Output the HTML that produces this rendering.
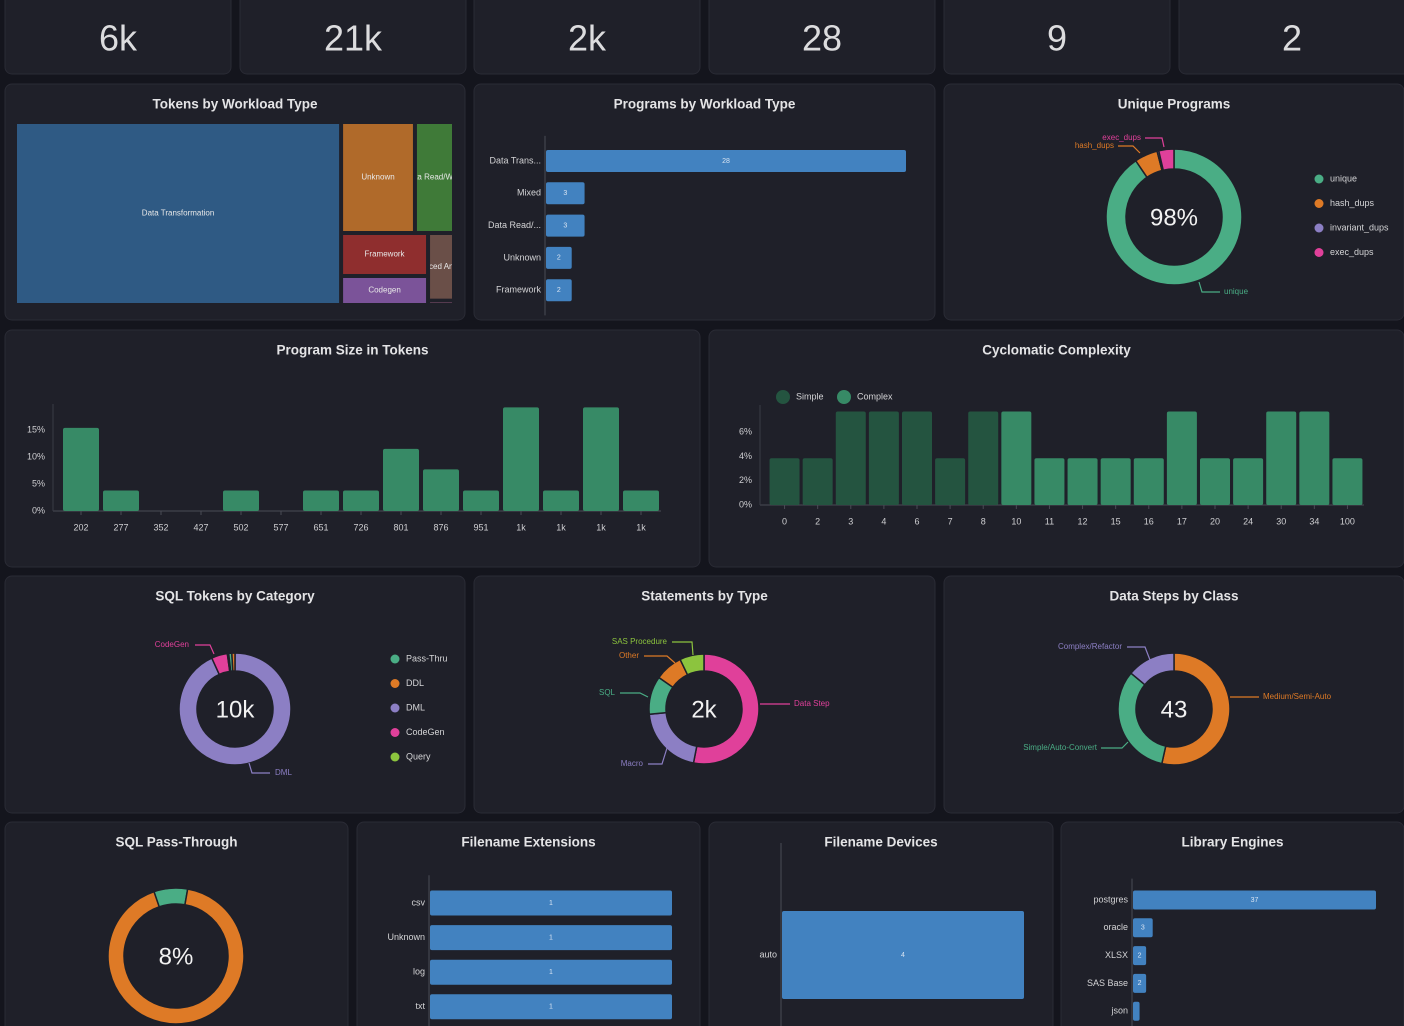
<!DOCTYPE html>
<html><head><meta charset="utf-8">
<style>
html,body{margin:0;padding:0;background:#14151d;width:1404px;height:1026px;overflow:hidden}
svg{display:block;font-family:"Liberation Sans",sans-serif}
</style></head>
<body>
<svg id="dash" width="1404" height="1026" viewBox="0 0 1404 1026" xmlns="http://www.w3.org/2000/svg"></svg>
<script>
// ---------- data ----------
const kpiValues = ["6k","21k","2k","28","9","2"];
const treeLabels = ["Data Transformation","Unknown","Data Read/Write","Framework","Codegen","Advanced Analytics","Other"];
const treeValues = [53000,7280,3850,3320,2240,1560,100];
const treeColors = ["#2f5a84","#b06a2a","#3f7a38","#8f2e2e","#7b5399","#6a4f48","#c0709a"];
const progCats = ["Data Trans...","Mixed","Data Read/...","Unknown","Framework"];
const progVals = [28,3,3,2,2];
const uniqueCats = ["unique","hash_dups","invariant_dups","exec_dups"];
const uniqueVals = [90.5,5.5,0.4,3.6];
const sizeCats = ["202","277","352","427","502","577","651","726","801","876","951","1k","1k","1k","1k"];
const sizeVals = [15.4,3.8,0,0,3.8,0,3.8,3.8,11.5,7.7,3.8,19.2,3.8,19.2,3.8];
const sizeTicks = [0,5,10,15];
const ccCats = ["0","2","3","4","6","7","8","10","11","12","15","16","17","20","24","30","34","100"];
const ccVals = [3.85,3.85,7.7,7.7,7.7,3.85,7.7,7.7,3.85,3.85,3.85,3.85,7.7,3.85,3.85,7.7,7.7,3.85];
const ccSimple = [1,1,1,1,1,1,1,0,0,0,0,0,0,0,0,0,0,0];
const ccTicks = [0,2,4,6];
const sqlCats = ["DML","CodeGen","Query","Pass-Thru","DDL"];
const sqlVals = [93.2,4.6,0.4,0.9,0.9];
const stmtCats = ["Data Step","Macro","SQL","Other","SAS Procedure"];
const stmtVals = [52,20,11,8,7];
const dsCats = ["Medium/Semi-Auto","Simple/Auto-Convert","Complex/Refactor"];
const dsVals = [23,14,6];
const ptCats = ["pass","other"];
const ptVals = [8,92];
const extCats = ["csv","Unknown","log","txt"];
const extVals = [1,1,1,1];
const devCats = ["auto"];
const devVals = [4];
const libCats = ["postgres","oracle","XLSX","SAS Base","json"];
const libVals = [37,3,2,2,1];

const NS="http://www.w3.org/2000/svg";
const svg=document.getElementById('dash');
function el(tag,attrs,parent,text){const e=document.createElementNS(NS,tag);for(const k in attrs)e.setAttribute(k,attrs[k]);if(text!==undefined)e.textContent=text;(parent||svg).appendChild(e);return e;}
function txt(x,y,s,size,fill,anchor,parent,weight){const t=el('text',{x:x,y:y,'font-size':size,fill:fill,'text-anchor':anchor||'middle','dominant-baseline':'middle','font-weight':weight||'normal'},parent,s);return t;}
function card(x,y,w,h,name,title){const g=el('g',{});
 el('rect',{x:x,y:y,width:w,height:h,rx:7,fill:'#1f2029',stroke:'#2a2b35','stroke-width':1},g);
 if(title){const t=txt(x+w/2,y+21,title,13.5,'#e4e4e6','middle',g,'bold');}
 return g;}

// KPIs
const kpiX=[5,240,474,709,944,1179];
kpiValues.forEach((v,i)=>{const g=card(kpiX[i],-8,i==5?233:226,82,'kpi-card-'+(i+1));
 const t=txt(kpiX[i]+113,41,v,36,'#dcdcde','middle',g);});

// ---------- treemap ----------
(function(){const g=card(5,84,460,236,'tokens-by-workload-card','Tokens by Workload Type');
 const X=17,Y=124,W=439,H=183,gap=4;
 const total=treeValues.reduce((a,b)=>a+b,0);const scale=W*H/total;
 const A=treeValues.map(v=>v*scale);
 const rects=[];
 // column for first item
 const w0=A[0]/H;rects.push({x:X,y:Y,w:w0,h:H,i:0});
 const rx=X+w0,rw=W-w0;
 // strip of items 1,2 across the top
 const h1=(A[1]+A[2])/rw;let xx=rx;
 [1,2].forEach(i=>{const w=A[i]/h1;rects.push({x:xx,y:Y,w:w,h:h1,i:i});xx+=w;});
 const ry=Y+h1,rh=H-h1;
 // column of items 3,4 then column of 5,6
 [[3,4],[5,6]].reduce((cx,grp)=>{const cw=(A[grp[0]]+A[grp[1]])/rh;let yy=ry;
   grp.forEach(i=>{const h=A[i]/cw;rects.push({x:cx,y:yy,w:cw,h:h,i:i});yy+=h;});return cx+cw;},rx);
 const defs=el('defs',{},g);
 rects.forEach((r,k)=>{const w=Math.max(0,r.w-gap),h=Math.max(0,r.h-gap);
  const rr=el('rect',{x:r.x,y:r.y,width:w,height:h,fill:treeColors[r.i]},g);
  
  const cp=el('clipPath',{id:'tc'+k},defs);el('rect',{x:r.x,y:r.y,width:w,height:h},cp);
  if(w>15&&h>15){const t=txt(r.x+w/2,r.y+h/2,treeLabels[r.i],8,'#e8e8e8','middle',g);t.setAttribute('clip-path','url(#tc'+k+')');}});
})();

// ---------- horizontal bar helper ----------
function hbar(g,axisX,maxW,maxV,cats,vals,y0,step,bh,labSize,showVal){
 const top=y0-step/2-bh/2+2,bottom=y0+step*(cats.length-1)+step/2+bh/2-2;
 el('line',{x1:axisX,y1:Math.min(top,y0-bh),x2:axisX,y2:bottom,stroke:'#4a4b55','stroke-width':1},g);
 cats.forEach((c,i)=>{const y=y0+i*step;const w=vals[i]/maxV*maxW;
  const b=el('rect',{x:axisX+1,y:y-bh/2,width:w,height:bh,rx:2,fill:'#4282c0'},g);
  
  txt(axisX-4,y,c,labSize,'#d4d4d6','end',g);
  if(showVal(i))txt(axisX+1+w/2,y,String(vals[i]),7,'#d8e4f2','middle',g);});}

(function(){const g=card(474,84,461,236,'programs-by-workload-card','Programs by Workload Type');
 hbar(g,545,360,28,progCats,progVals,161,32.3,22,9,()=>true);})();

// ---------- donut helper ----------
function arcPath(cx,cy,r1,r0,a0,a1){const p=(r,a)=>[cx+r*Math.sin(a),cy-r*Math.cos(a)];
 const large=(a1-a0)>Math.PI?1:0;const A=p(r1,a0),B=p(r1,a1),C=p(r0,a1),D=p(r0,a0);
 return `M${A[0]},${A[1]}A${r1},${r1} 0 ${large} 1 ${B[0]},${B[1]}L${C[0]},${C[1]}A${r0},${r0} 0 ${large} 0 ${D[0]},${D[1]}Z`;}
function donut(g,cx,cy,r1,r0,vals,colors,names,start){const tot=vals.reduce((a,b)=>a+b,0);let a=start||0;
 vals.forEach((v,i)=>{const da=v/tot*2*Math.PI;const p=el('path',{d:arcPath(cx,cy,r1,r0,a,a+da),fill:colors[i],stroke:'#1f2029','stroke-width':1.5},g);
  a+=da;});}
function lead(g,pts,color,label,lx,ly,anchor){el('polyline',{points:pts,fill:'none',stroke:color,'stroke-width':1.2},g);txt(lx,ly,label,8,color,anchor,g);}
function legend(g,x,y,step,names,colors){names.forEach((n,i)=>{const gg=el('g',{},g);
 el('circle',{cx:x,cy:y+i*step,r:4.5,fill:colors[i]},gg);txt(x+11,y+i*step,n,9,'#d4d4d6','start',gg);});}

(function(){const g=card(944,84,460,236,'unique-programs-card','Unique Programs');
 const cols=['#4aad85','#de7a26','#8c7fc4','#e0409a'];
 donut(g,1174,217,68,48,uniqueVals,cols,uniqueCats,0);
 txt(1174,219,'98%',24,'#f2f2f2','middle',g);
 lead(g,'1199,282 1202,292 1220,292','#4aad85','unique',1224,292,'start');
 lead(g,'1140,153 1133,146 1118,146','#de7a26','hash_dups',1114,146,'end');
 lead(g,'1164,147 1162,138 1145,138','#e0409a','exec_dups',1141,138,'end');
 legend(g,1319,179,24.5,uniqueCats,cols);})();

// ---------- vertical bar helper ----------
function vbar(g,x0,x1,yBase,pxPerUnit,cats,vals,colorFn,ticks,tickFmt,bw,axisTop){
 const n=cats.length,step=(x1-x0)/n;
 el('line',{x1:x0-8,y1:yBase,x2:x1,y2:yBase,stroke:'#4a4b55','stroke-width':1},g);
 el('line',{x1:x0-8,y1:axisTop,x2:x0-8,y2:yBase,stroke:'#3a3b45','stroke-width':1},g);
 ticks.forEach(t=>txt(x0-16,yBase-t*pxPerUnit,tickFmt(t),9,'#cfcfd2','end',g));
 cats.forEach((c,i)=>{const cx=x0+step*(i+0.5);const h=vals[i]*pxPerUnit;
  el('line',{x1:cx,y1:yBase,x2:cx,y2:yBase+4,stroke:'#4a4b55'},g);
  if(h>0){const b=el('rect',{x:cx-bw/2,y:yBase-h,width:bw,height:h,rx:2,fill:colorFn(i)},g);
   }
  txt(cx,yBase+17,c,9,'#cfcfd2','middle',g);});}

(function(){const g=card(5,330,695,237,'program-size-card','Program Size in Tokens');
 vbar(g,61,661,511,5.4,sizeCats,sizeVals,()=>'#378a66',sizeTicks,t=>t+'%',36,404);})();

(function(){const g=card(709,330,695,237,'cyclomatic-complexity-card','Cyclomatic Complexity');
 vbar(g,768,1364,505,12.15,ccCats,ccVals,i=>ccSimple[i]?'#245440':'#378a66',ccTicks,t=>t+'%',30,405);
 [['Simple','#245440',783],['Complex','#378a66',844]].forEach(d=>{
  const lg=el('g',{},g);
  el('circle',{cx:d[2],cy:397,r:7,fill:d[1]},lg);txt(d[2]+13,397,d[0],9,'#d4d4d6','start',lg);});})();

(function(){const g=card(5,576,460,237,'sql-tokens-card','SQL Tokens by Category');
 const cols=['#8c7fc4','#e0409a','#8cc43e','#4aad85','#de7a26'];
 donut(g,235,709,56,38,sqlVals,cols,sqlCats,0);
 txt(235,711,'10k',24,'#f2f2f2','middle',g);
 lead(g,'249,763 252,773 270,773','#8c7fc4','DML',275,773,'start');
 lead(g,'214,654 210,645 195,645','#e0409a','CodeGen',189,645,'end');
 legend(g,395,659,24.5,['Pass-Thru','DDL','DML','CodeGen','Query'],['#4aad85','#de7a26','#8c7fc4','#e0409a','#8cc43e']);})();

(function(){const g=card(474,576,461,237,'statements-by-type-card','Statements by Type');
 const cols=['#e0409a','#8c7fc4','#4aad85','#de7a26','#8cc43e'];
 donut(g,704,709,55,38,stmtVals,cols,stmtCats,0);
 txt(704,711,'2k',24,'#f2f2f2','middle',g);
 lead(g,'760,704 790,704','#e0409a','Data Step',794,704,'start');
 lead(g,'667,748 662,764 648,764','#8c7fc4','Macro',643,764,'end');
 lead(g,'648,697 640,693 620,693','#4aad85','SQL',615,693,'end');
 lead(g,'675,663 667,656 644,656','#de7a26','Other',639,656,'end');
 lead(g,'693,655 692,642 672,642','#8cc43e','SAS Procedure',667,642,'end');})();

(function(){const g=card(944,576,460,237,'data-steps-card','Data Steps by Class');
 const cols=['#de7a26','#4aad85','#8c7fc4'];
 donut(g,1174,709,56,38,dsVals,cols,dsCats,0);
 txt(1174,711,'43',24,'#f2f2f2','middle',g);
 lead(g,'1230,697 1259,697','#de7a26','Medium/Semi-Auto',1263,697,'start');
 lead(g,'1128,742 1122,748 1101,748','#4aad85','Simple/Auto-Convert',1097,748,'end');
 lead(g,'1150,660 1145,647 1127,647','#8c7fc4','Complex/Refactor',1122,647,'end');})();

(function(){const g=card(5,822,343,220,'sql-pass-through-card','SQL Pass-Through');
 donut(g,176,956,68,52,ptVals,['#4aad85','#de7a26'],ptCats,-0.33);
 txt(176,958,'8%',24,'#f2f2f2','middle',g);})();

(function(){const g=card(357,822,343,220,'filename-extensions-card','Filename Extensions');
 hbar(g,429,242,1,extCats,extVals,903,34.6,25,9,()=>true);})();

(function(){const g=card(709,822,344,220,'filename-devices-card','Filename Devices');
 hbar(g,781,242,4,devCats,devVals,955,140,88,9,()=>true);})();

(function(){const g=card(1061,822,343,220,'library-engines-card','Library Engines');
 hbar(g,1132,243,37,libCats,libVals,900,27.8,19,9,i=>libVals[i]>1);})();
</script>
</body></html>
